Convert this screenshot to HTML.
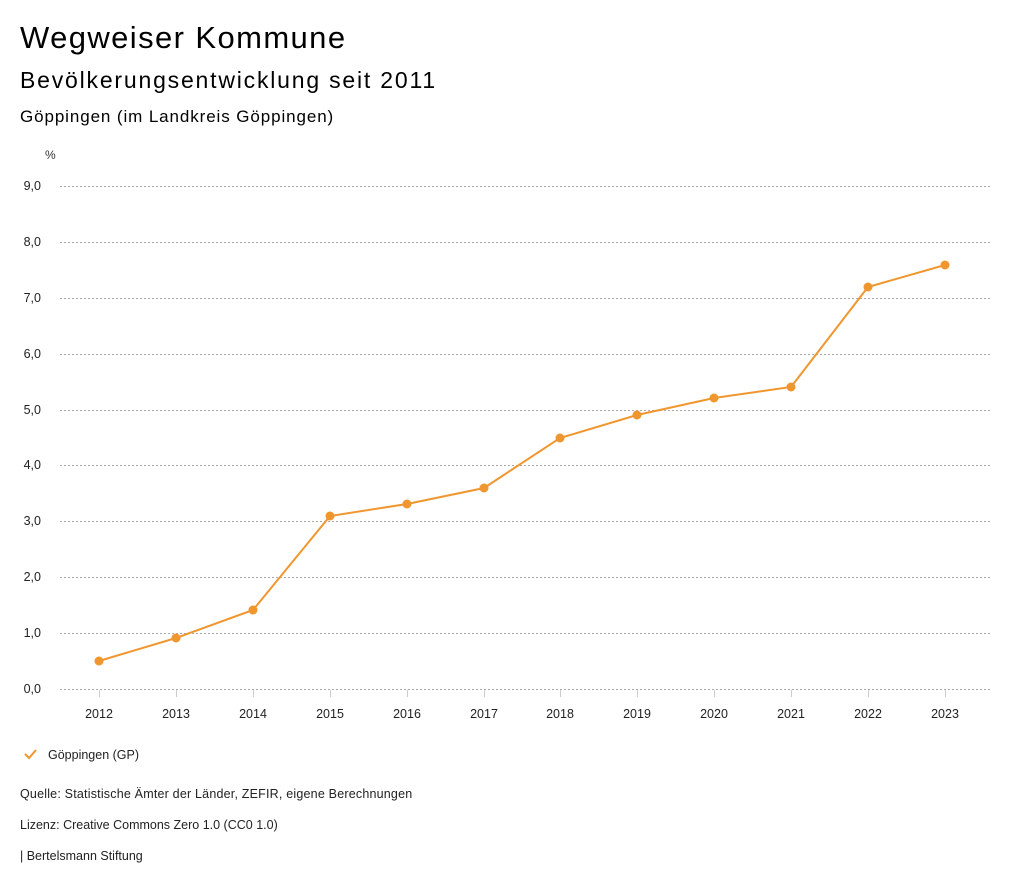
<!DOCTYPE html>
<html><head><meta charset="utf-8"><style>
html,body{margin:0;padding:0;background:#fff;}
body{width:1024px;height:888px;overflow:hidden;font-family:"Liberation Sans",sans-serif;}
</style></head><body>
<svg width="1024" height="888" xmlns="http://www.w3.org/2000/svg" font-family="Liberation Sans, sans-serif">
<text x="20" y="48" font-size="31" fill="#000" letter-spacing="1.4">Wegweiser Kommune</text>
<text x="20" y="88" font-size="23" fill="#000" letter-spacing="1.8">Bevölkerungsentwicklung seit 2011</text>
<text x="20" y="122" font-size="17" fill="#000" letter-spacing="0.9">Göppingen (im Landkreis Göppingen)</text>
<text x="45" y="159" font-size="12" fill="#333">%</text>
<g stroke="#aaa" stroke-width="1" stroke-dasharray="2,2">
<line x1="60" x2="990" y1="186.5" y2="186.5"/><line x1="60" x2="990" y1="242.5" y2="242.5"/>
<line x1="60" x2="990" y1="298.5" y2="298.5"/><line x1="60" x2="990" y1="354.5" y2="354.5"/>
<line x1="60" x2="990" y1="410.5" y2="410.5"/><line x1="60" x2="990" y1="465.5" y2="465.5"/>
<line x1="60" x2="990" y1="521.5" y2="521.5"/><line x1="60" x2="990" y1="577.5" y2="577.5"/>
<line x1="60" x2="990" y1="633.5" y2="633.5"/><line x1="60" x2="990" y1="689.5" y2="689.5"/>
</g>
<g font-size="12.5" fill="#222" text-anchor="end">
<text x="41" y="190">9,0</text><text x="41" y="246">8,0</text><text x="41" y="302">7,0</text>
<text x="41" y="358">6,0</text><text x="41" y="414">5,0</text><text x="41" y="469">4,0</text>
<text x="41" y="525">3,0</text><text x="41" y="581">2,0</text><text x="41" y="637">1,0</text>
<text x="41" y="693">0,0</text>
</g>
<g stroke="#ccc" stroke-width="1">
<line x1="99.5" x2="99.5" y1="690" y2="697"/><line x1="176.5" x2="176.5" y1="690" y2="697"/>
<line x1="253.5" x2="253.5" y1="690" y2="697"/><line x1="330.5" x2="330.5" y1="690" y2="697"/>
<line x1="407.5" x2="407.5" y1="690" y2="697"/><line x1="484.5" x2="484.5" y1="690" y2="697"/>
<line x1="560.5" x2="560.5" y1="690" y2="697"/><line x1="637.5" x2="637.5" y1="690" y2="697"/>
<line x1="714.5" x2="714.5" y1="690" y2="697"/><line x1="791.5" x2="791.5" y1="690" y2="697"/>
<line x1="868.5" x2="868.5" y1="690" y2="697"/><line x1="945.5" x2="945.5" y1="690" y2="697"/>
</g>
<g font-size="12.5" fill="#222" text-anchor="middle">
<text x="99" y="718">2012</text><text x="176" y="718">2013</text><text x="253" y="718">2014</text>
<text x="330" y="718">2015</text><text x="407" y="718">2016</text><text x="484" y="718">2017</text>
<text x="560" y="718">2018</text><text x="637" y="718">2019</text><text x="714" y="718">2020</text>
<text x="791" y="718">2021</text><text x="868" y="718">2022</text><text x="945" y="718">2023</text>
</g>
<polyline fill="none" stroke="#f0962e" stroke-width="2" points="99,661 176,638 253,610 330,516 407,504 484,488 560,438 637,415 714,398 791,387 868,287 945,265"/>
<g fill="#f0962e">
<circle cx="99" cy="661" r="4.5"/><circle cx="176" cy="638" r="4.5"/><circle cx="253" cy="610" r="4.5"/>
<circle cx="330" cy="516" r="4.5"/><circle cx="407" cy="504" r="4.5"/><circle cx="484" cy="488" r="4.5"/>
<circle cx="560" cy="438" r="4.5"/><circle cx="637" cy="415" r="4.5"/><circle cx="714" cy="398" r="4.5"/>
<circle cx="791" cy="387" r="4.5"/><circle cx="868" cy="287" r="4.5"/><circle cx="945" cy="265" r="4.5"/>
</g>
<polyline fill="none" stroke="#f0962e" stroke-width="2" points="25,754 29,758 36,750"/>
<text x="48" y="759" font-size="12.5" fill="#222">Göppingen (GP)</text>
<text x="20" y="798" font-size="12.5" fill="#222" letter-spacing="0.2">Quelle: Statistische Ämter der Länder, ZEFIR, eigene Berechnungen</text>
<text x="20" y="829" font-size="12.5" fill="#222">Lizenz: Creative Commons Zero 1.0 (CC0 1.0)</text>
<text x="20" y="860" font-size="12.5" fill="#222">| Bertelsmann Stiftung</text>
</svg>
</body></html>
